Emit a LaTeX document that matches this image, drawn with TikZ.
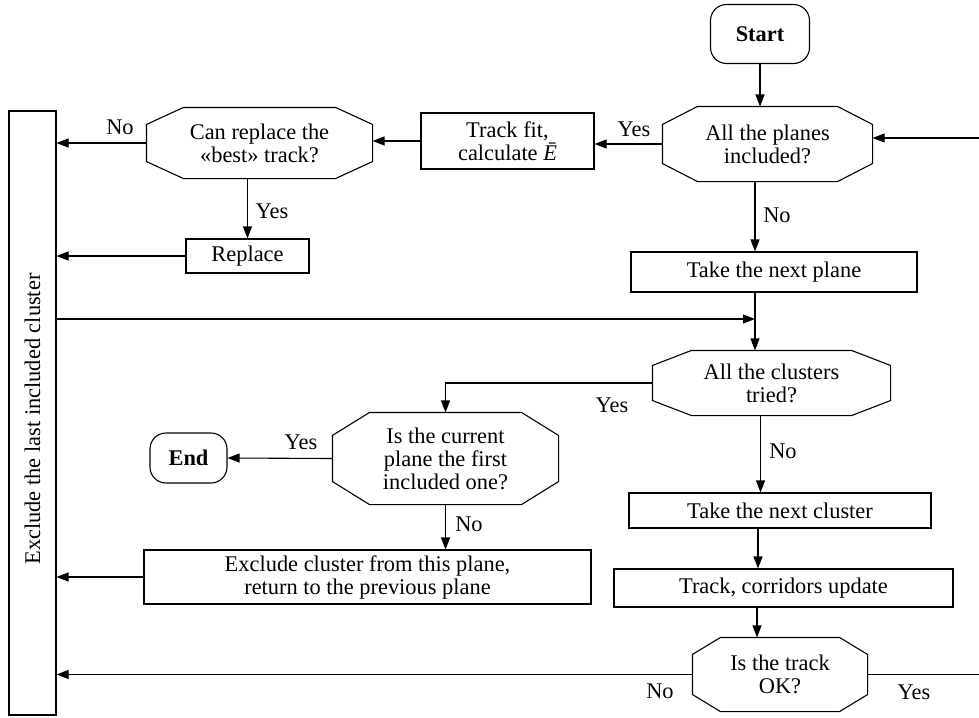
\documentclass[tikz,border=0pt]{standalone}
\usepackage{fontspec}
\setmainfont{Liberation Serif}
\usepackage{graphicx}
\usetikzlibrary{arrows.meta,calc}

\begin{document}
\begin{tikzpicture}[x=1pt,y=-1pt,line width=1.1pt,font=\fontsize{22.4}{23}\selectfont,
  box/.style={draw,align=center,inner sep=0pt},
  term/.style={draw,rounded corners=16pt,inner sep=0pt,font=\fontsize{22.4}{23}\selectfont\bfseries},
  octa/.style={align=center,inner sep=0pt},
  arr/.style={-{Triangle[length=12pt,width=9pt]}},
  lbl/.style={inner sep=0pt}]
  \useasboundingbox (0,0) rectangle (979,717);

  % top part
  \node[term,minimum width=99pt,minimum height=59pt] (start) at (760,34) {Start};
  \node[octa,minimum width=209pt,minimum height=74pt] (planes) at (767.5,144) {All the planes\\included?};
  \node[box,minimum width=173pt,minimum height=56pt] (fit) at (507.5,141) {Track fit,\\calculate \textit{Ē}};
  \node[octa,minimum width=225pt,minimum height=70pt] (replq) at (259.5,143) {Can replace the\\«best» track?};
  \node[box,minimum width=123pt,minimum height=34pt] (repl) at (247.5,256) {Replace};
  \node[box,minimum width=47pt,minimum height=604pt] (excl) at (32.5,413) {\rotatebox{90}{\hspace*{-12pt}Exclude the last included cluster}};
  \node[box,minimum width=286pt,minimum height=40pt] (nextpl) at (774,272) {Take the next plane};
  \coordinate (trunk) at (755,319);

  % clusters
  \node[octa,minimum width=237pt,minimum height=64pt] (clq) at (771.5,383) {All the clusters\\tried?};
  \node[octa,minimum width=225pt,minimum height=91pt] (firstq) at (445.5,458.5) {Is the current\\plane the first\\included one?};
  \node[term,minimum width=77pt,minimum height=50pt] (end) at (188.5,458) {End};
  \node[box,minimum width=447pt,minimum height=54pt] (back) at (367.5,577) {Exclude cluster from this plane,\\return to the previous plane};
  \node[box,minimum width=302pt,minimum height=35pt] (nextcl) at (780,510.5) {Take the next cluster};
  \node[box,minimum width=339pt,minimum height=38pt] (upd) at (783.5,588) {Track, corridors update};
  \node[octa,minimum width=174pt,minimum height=73pt] (okq) at (780,674.5) {Is the track\\OK?};
  \coordinate (rtop) at (979,138);
  \coordinate (rbot) at (979,674.5);

  % octagon outlines
  \foreach \n/\cx/\cy in {planes/35/18,replq/37/17,clq/39/15,firstq/37/23,okq/28/17}
    \draw ([xshift=\cx pt]\n.north west) -- ([xshift=-\cx pt]\n.north east)
      -- ([yshift=-\cy pt]\n.north east) -- ([yshift=\cy pt]\n.south east)
      -- ([xshift=-\cx pt]\n.south east) -- ([xshift=\cx pt]\n.south west)
      -- ([yshift=\cy pt]\n.south west) -- ([yshift=-\cy pt]\n.north west) -- cycle;

  % labels
  \node[lbl] (noA) at (120,127) {No};
  \node[lbl] (yesA) at (634,129) {Yes};
  \node[lbl] (yesB) at (272,211) {Yes};
  \node[lbl] (noB) at (777,215) {No};
  \node[lbl] (yesC) at (612,405) {Yes};
  \node[lbl] (noC) at (783,451) {No};
  \node[lbl] (yesD) at (301,442) {Yes};
  \node[lbl] (noD) at (469,524) {No};
  \node[lbl] (noE) at (660,691) {No};
  \node[lbl] (yesE) at (914,692) {Yes};

  % connectors
  \draw[arr] (start) -- (start |- planes.north);
  \draw[arr] (planes.west) -- (planes.west -| fit.east);
  \draw[arr] (fit.west) -- (fit.west -| replq.east);
  \draw[arr] (replq.west) -- (replq.west -| excl.east);
  \draw[arr] (repl |- replq.south) -- (repl.north);
  \draw[arr] (repl.west) -- (repl.west -| excl.east);
  \draw[arr] (trunk |- planes.south) -- (trunk |- nextpl.north);
  \draw[arr] (excl.east |- trunk) -- (trunk);
  \draw[arr] (trunk |- nextpl.south) -- (trunk |- clq.north);
  \draw[arr] (clq.west) -| (firstq.north);
  \draw[arr] (firstq.west) -- (end.east);
  \draw[arr] (firstq.south) -- (firstq.south |- back.north);
  \draw[arr] (back.west) -- (back.west -| excl.east);
  \draw[arr] ([xshift=-11pt]clq.south) -- ([xshift=-11pt]clq.south |- nextcl.north);
  \draw[arr] ([xshift=-22pt]nextcl.south) -- ([xshift=-22pt]nextcl.south |- upd.north);
  \draw[arr] ([xshift=-23pt]okq.north |- upd.south) -- ([xshift=-23pt]okq.north);
  \draw[arr] (okq.west) -- (okq.west -| excl.east);
  \draw (okq.east) -- (rbot);
  \draw[arr] (rtop) -- (rtop -| planes.east);
\end{tikzpicture}
\end{document}
